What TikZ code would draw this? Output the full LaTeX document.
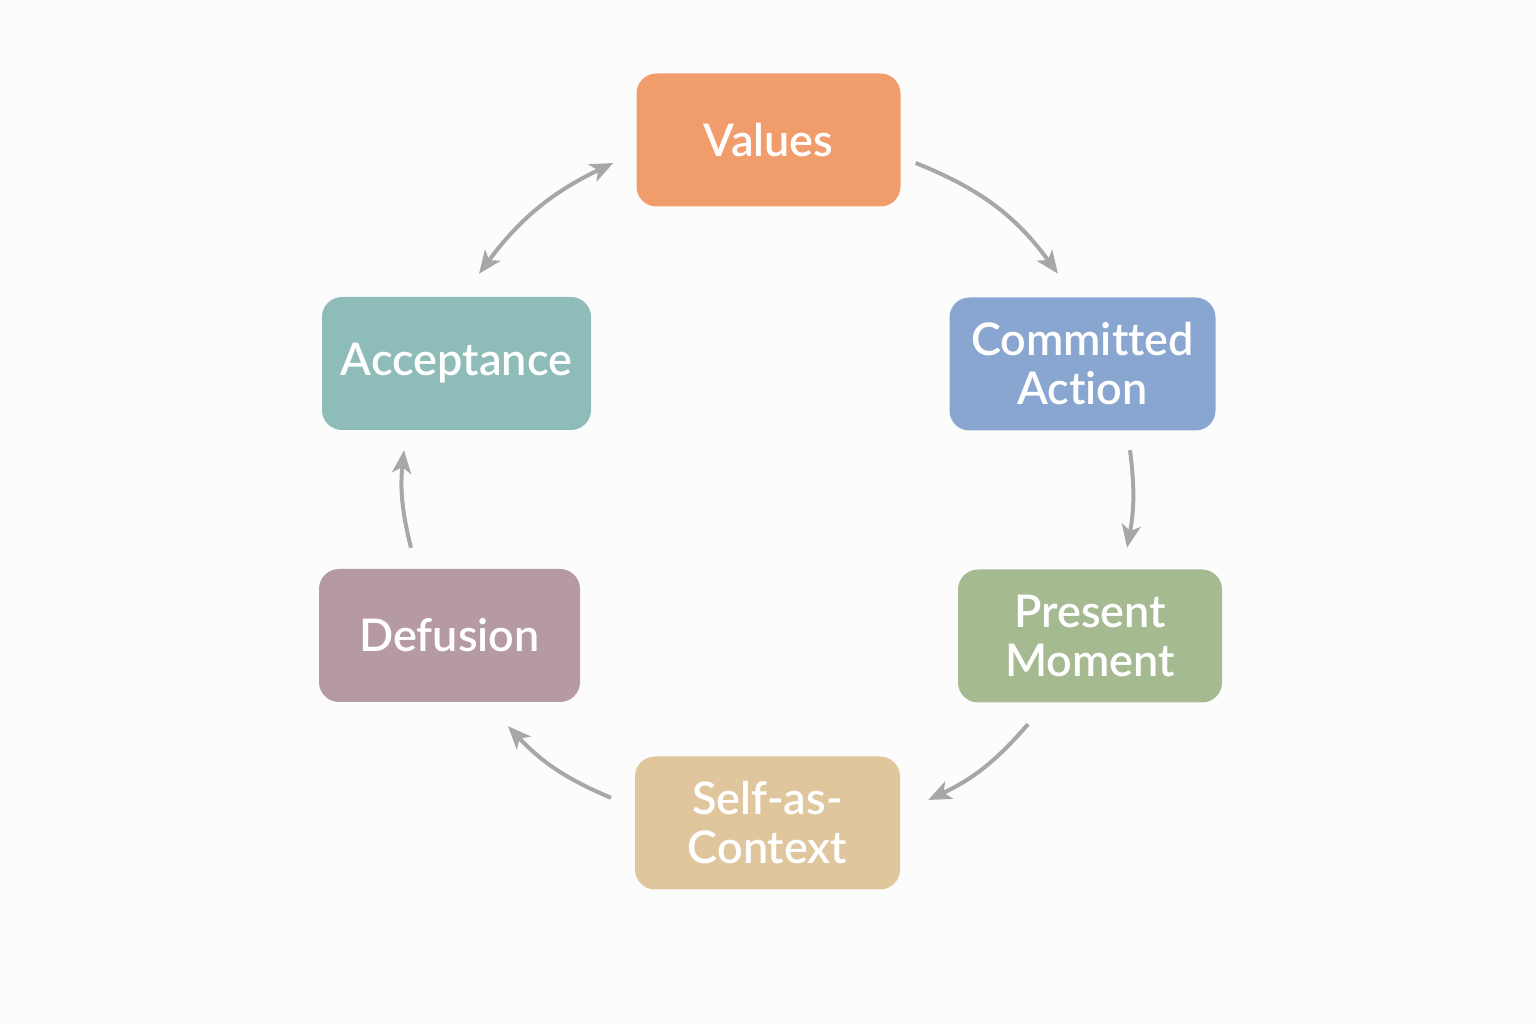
\documentclass[tikz,border=0pt]{standalone}
\usepackage{fontspec}
\setmainfont{Lato}[UprightFont={Lato Semibold},RawFeature={-liga;-clig;-dlig}]
\usetikzlibrary{arrows.meta}
\definecolor{bg}{HTML}{FCFCFC}
\definecolor{cval}{HTML}{F09C6B}
\definecolor{ccom}{HTML}{89A6D1}
\definecolor{cpre}{HTML}{A6BA92}
\definecolor{cself}{HTML}{E0C69C}
\definecolor{cdef}{HTML}{B59AA4}
\definecolor{cacc}{HTML}{8DBCB9}
\definecolor{carr}{HTML}{A9A7A6}
\tikzset{
  box/.style={rounded corners=20pt, minimum width=264pt, minimum height=133pt,
    text=white, align=center, inner sep=0pt,
    font=\fontsize{45}{49}\selectfont},
  arr/.style={draw=carr, line width=4pt, -{Stealth[length=23pt,width=19pt,inset=6pt]}},
  darr/.style={draw=carr, line width=4pt, {Stealth[length=23pt,width=19pt,inset=6pt]}-{Stealth[length=23pt,width=19pt,inset=6pt]}}
}
\begin{document}
\begin{tikzpicture}[x=1pt,y=1pt]
\useasboundingbox[fill=bg] (0,0) rectangle (1536,1024);
\node[box, fill=cval] (v) at (768.5,884) {Values};
\node[box, fill=ccom, minimum width=266pt] (c) at (1082.5,660) {Committed\\Action};
\node[box, fill=cpre] (p) at (1090,388) {Present\\Moment};
\node[box, fill=cself, minimum width=265pt] (s) at (767.5,201) {Self-as-\\Context};
\node[box, fill=cdef, minimum width=261pt] (d) at (449.5,388.5) {Defusion};
\node[box, fill=cacc, minimum width=269pt] (a) at (456.5,660.5) {Acceptance};
\draw[arr] ([shift={(15,-23)}]v.east) to[bend left=16] ([shift={(-24.5,23.5)}]c.north);
\draw[arr] ([shift={(47.5,-19.5)}]c.south) to[bend left=9] ([shift={(37,21.5)}]p.north);
\draw[arr] ([shift={(-62,-21.5)}]p.south) to[bend left=12] ([shift={(28,23)}]s.east);
\draw[arr] ([shift={(-156.5,-41.5)}]s.north) to[bend left=12] ([shift={(58.5,-24)}]d.south);
\draw[arr] ([shift={(-38.5,21)}]d.north) to[bend left=10] ([shift={(-52.5,-20)}]a.south);
\draw[darr] ([shift={(22.5,23)}]a.north) to[bend left=14] ([shift={(-23,-23)}]v.west);
\end{tikzpicture}
\end{document}
